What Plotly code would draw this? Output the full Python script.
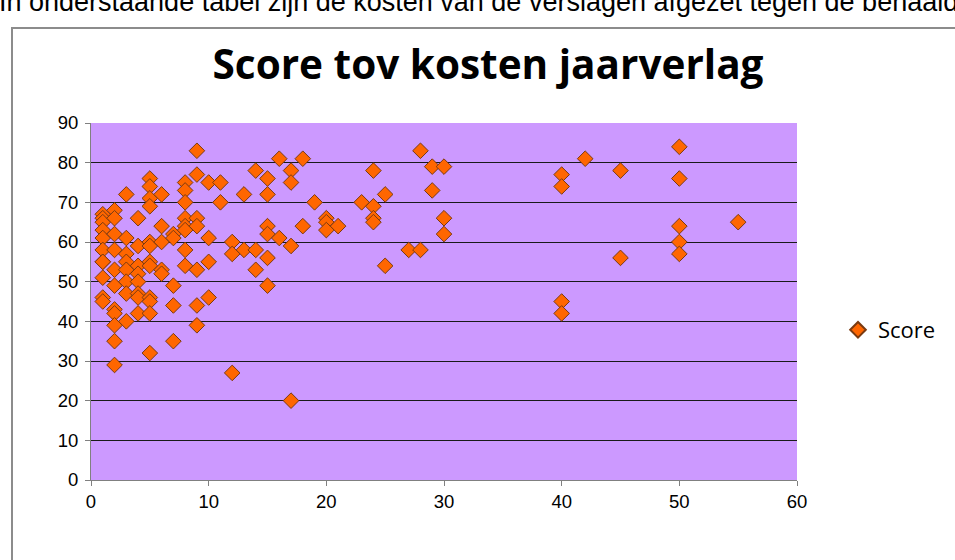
import plotly.graph_objects as go

# Data (kosten, score)
kosten_groups = [1, 2, 3, 4, 5, 6, 7, 8, 9, 10, 11, 12, 13, 14, 15, 16, 17, 18, 19, 20,
                 21, 23, 24, 25, 27, 28, 29, 30, 40, 42, 45, 50, 55]
score_groups = [
    [67, 66, 65, 63, 61, 58, 55, 55, 51, 46, 45],
    [68, 66, 62, 58, 53, 49, 43, 42, 39, 35, 29],
    [72, 61, 57, 55, 53, 50, 47, 40],
    [66, 59, 54, 52, 50, 47, 46, 42],
    [76, 74, 71, 69, 60, 59, 55, 54, 46, 45, 42, 32],
    [72, 64, 60, 53, 52],
    [62, 61, 49, 44, 35],
    [75, 73, 70, 66, 64, 63, 58, 54],
    [83, 77, 66, 64, 53, 44, 39],
    [75, 61, 55, 46],
    [75, 70],
    [60, 57, 27],
    [72, 58],
    [78, 58, 53],
    [76, 72, 64, 62, 56, 49],
    [81, 61],
    [78, 75, 59, 20],
    [81, 64],
    [70],
    [66, 65, 63],
    [64],
    [70],
    [78, 69, 66, 65],
    [72, 54],
    [58],
    [83, 58],
    [79, 73],
    [79, 66, 62],
    [77, 74, 45, 42],
    [81],
    [78, 56],
    [84, 76, 64, 60, 57],
    [65],
]
kosten = [k for k, s in zip(kosten_groups, score_groups) for _ in s]
score = [v for s in score_groups for v in s]

x_ticks = [0, 10, 20, 30, 40, 50, 60]
y_ticks = [0, 10, 20, 30, 40, 50, 60, 70, 80, 90]

fig = go.Figure()
fig.add_trace(go.Scatter(
    x=kosten, y=score, mode="markers", name="Score",
    marker=dict(symbol="diamond", size=12, color="#FF6600",
                line=dict(color="#7A3A10", width=1)),
))

W, H = 955, 560
L, R, T, B = 91, 797, 123, 480

def px_x(p):
    return (p - L) / (R - L)

def px_y(q):
    return (B - q) / (B - T)

fig.update_layout(
    width=W, height=H,
    margin=dict(l=L, r=W - R, t=T, b=H - B),
    paper_bgcolor="white",
    plot_bgcolor="#CC99FF",
    font=dict(family="Liberation Sans, Arial", size=18.5, color="black"),
    title=dict(text="<b>Score tov kosten jaarverlag</b>",
               font=dict(family="Open Sans, Lato", size=40.5, color="black"),
               x=px_x(488), xref="paper", xanchor="center",
               y=1 - 65 / H, yanchor="middle"),
    showlegend=True,
    legend=dict(x=px_x(838), y=px_y(330), xanchor="left", yanchor="middle",
                font=dict(family="Open Sans, Lato", size=22),
                bgcolor="rgba(0,0,0,0)", itemsizing="constant"),
    xaxis=dict(range=[0, 60], tickvals=x_ticks, showgrid=False, zeroline=False,
               showline=True, linecolor="#808080", linewidth=1,
               ticks="outside", ticklen=5, tickcolor="#808080"),
    yaxis=dict(range=[0, 90], tickvals=y_ticks, showgrid=True, gridcolor="#1a1a1a",
               gridwidth=1, zeroline=False, showline=True, linecolor="#808080",
               linewidth=1, ticks="outside", ticklen=5, tickcolor="#808080",
               ticklabelstandoff=3),
    shapes=[dict(type="rect", xref="paper", yref="paper",
                 x0=px_x(12), x1=px_x(1000), y0=px_y(620), y1=px_y(28),
                 line=dict(color="#8C8C8C", width=2), layer="below")],
    annotations=[dict(text="In onderstaande tabel zijn de kosten van de verslagen afgezet tegen de behaalde",
                      xref="paper", yref="paper", x=px_x(-3), y=px_y(19),
                      xanchor="left", yanchor="bottom", showarrow=False,
                      font=dict(family="Liberation Sans, Arial", size=27))],
)

fig.write_html("out.html", config={"displayModeBar": False},
               post_script="document.body.style.margin='0';")
